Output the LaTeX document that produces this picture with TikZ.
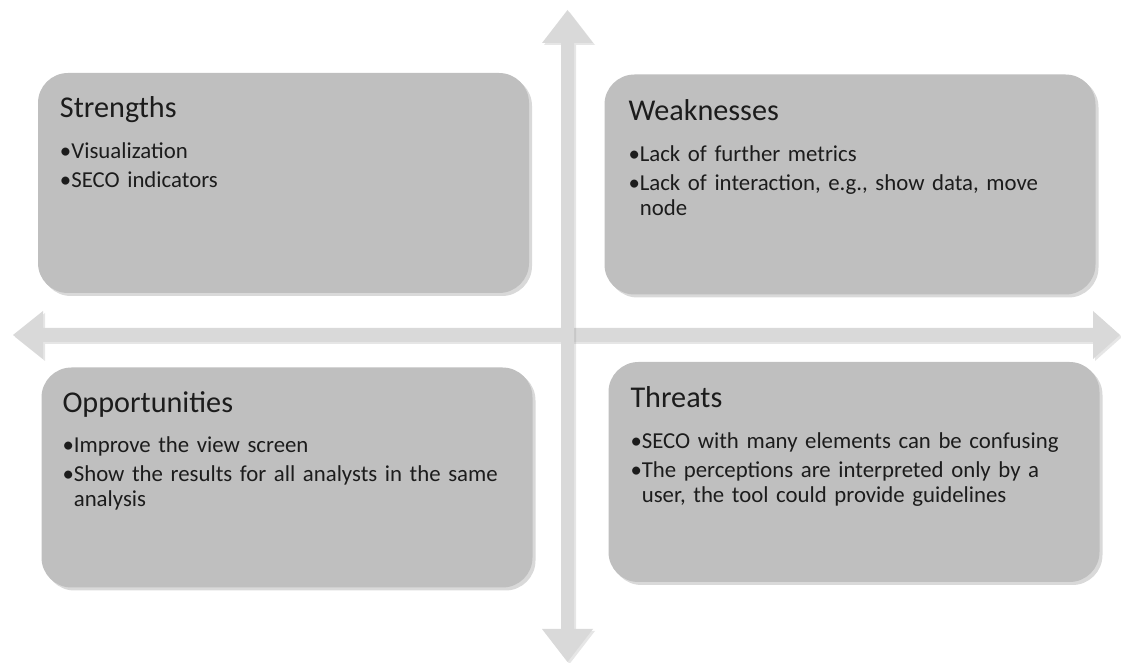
\documentclass[tikz,border=0pt]{standalone}
\usepackage{fontspec}
\setmainfont{Carlito}
\usepackage{xcolor}
\usepackage{tikz}
\usetikzlibrary{shadows,positioning}
\definecolor{quadgray}{HTML}{BFBFBF}
\definecolor{axisgray}{HTML}{D9D9D9}
\definecolor{inkgray}{HTML}{1C1C1C}
\newcommand{\swotfont}{\fontsize{11.4}{12.5}\selectfont\spaceskip=0.19em plus 0.1em minus 0.05em\relax}
\newcommand{\swotitem}[1]{\setbox0\hbox{\textbullet}\hangindent=\wd0\hangafter=1\noindent\box0 #1\par}
\newcommand{\swotgap}{\vspace{2pt}}
\tikzstyle{quad}=[
fill=quadgray,
rounded corners=15pt,
minimum width=245.5pt,
minimum height=110pt,
drop shadow={shadow xshift=1.5pt,shadow yshift=-1.5pt,opacity=0.3}
]
\tikzstyle{quadtitle}=[
text=inkgray,
font=\fontsize{15.1}{18}\selectfont,
inner sep=0pt
]
\tikzstyle{quaditems}=[
text=inkgray,
font=\swotfont,
text width=240pt,
align=left,
inner sep=0pt
]
\tikzstyle{axis}=[
fill=axisgray,
drop shadow={shadow xshift=1pt,shadow yshift=-1pt,opacity=0.2}
]

\begin{document}
\begin{tikzpicture}[x=0.5pt,y=-0.5pt]
\useasboundingbox (0,0) rectangle (1121,663);

% axes
\fill [axis] (13,335) -- (43,311) -- (43,328) -- (1093,328) -- (1093,311) -- (1120,335)
  -- (1093,359) -- (1093,342) -- (43,342) -- (43,359) -- cycle;
\fill [axis] (567.5,10) -- (593,43) -- (574,43) -- (574,629) -- (593,629) -- (567.5,662)
  -- (542,629) -- (561,629) -- (561,43) -- (542,43) -- cycle;

% quadrants
\node (strengths) [quad] at (283.5,183) {};
\node (weaknesses) [quad] at (850,184.5) {};
\node (opportunities) [quad] at (287,477.5) {};
\node (threats) [quad] at (854,472) {};

\node (strengths-head) [quadtitle, below right=22.5pt and 11pt of strengths.north west, anchor=base west] {Strengths};
\node (weaknesses-head) [quadtitle, below right=23pt and 12pt of weaknesses.north west, anchor=base west] {Weaknesses};
\node (opportunities-head) [quadtitle, below right=22.5pt and 10.5pt of opportunities.north west, anchor=base west] {Opportunities};
\node (threats-head) [quadtitle, below right=23pt and 11pt of threats.north west, anchor=base west] {Threats};

\node (strengths-list) [quaditems, below=20.5pt of strengths-head.base west, anchor=base west] {
\swotitem{Visualization}\swotgap
\swotitem{SECO indicators}
};

\node (weaknesses-list) [quaditems, below=20.5pt of weaknesses-head.base west, anchor=base west] {
\swotitem{Lack of further metrics}\swotgap
\swotitem{Lack of interaction, e.g., show data, move\newline node}
};

\node (opportunities-list) [quaditems, below=20pt of opportunities-head.base west, anchor=base west] {
\swotitem{Improve the view screen}\swotgap
\swotitem{Show the results for all analysts in the same\newline analysis}
};

\node (threats-list) [quaditems, below=20.5pt of threats-head.base west, anchor=base west] {
\swotitem{SECO with many elements can be confusing}\swotgap
\swotitem{The perceptions are interpreted only by a\newline user, the tool could provide guidelines}
};

\end{tikzpicture}
\end{document}
